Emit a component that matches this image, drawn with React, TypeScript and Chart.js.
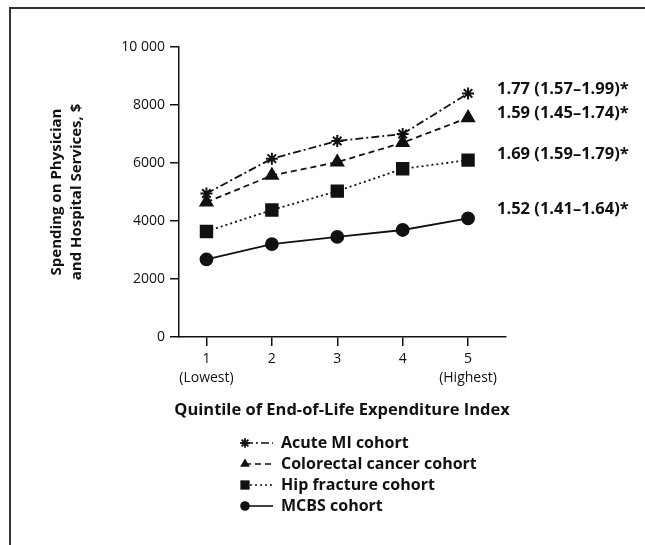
import React, { useEffect, useRef } from "react";
import { Chart, registerables } from "chart.js";

Chart.register(...registerables);

const quintiles = [1, 2, 3, 4, 5];
const tickLabels: string[][] = [["1", "(Lowest)"], ["2"], ["3"], ["4"], ["5", "(Highest)"]];
const acuteMI = [4950, 6150, 6760, 7000, 8400];
const colorectal = [4650, 5570, 6030, 6700, 7560];
const hipFracture = [3640, 4380, 5030, 5800, 6100];
const mcbs = [2680, 3200, 3450, 3690, 4090];
const seriesNames = ["Acute MI cohort", "Colorectal cancer cohort", "Hip fracture cohort", "MCBS cohort"];
const ratioLabels = ["1.77 (1.57\u20131.99)*", "1.59 (1.45\u20131.74)*", "1.69 (1.59\u20131.79)*", "1.52 (1.41\u20131.64)*"];
const ratioValues = [8550, 7700, 6300, 4400];

const FONT = "'Open Sans', Lato, sans-serif";

export default function App() {
  const ref = useRef<HTMLCanvasElement | null>(null);
  useEffect(() => {
    const canvas = ref.current;
    if (!canvas) return;
    const toPts = (arr: number[]) => arr.map((y, i) => ({ x: quintiles[i], y }));
    function drawPoint(ctx: CanvasRenderingContext2D, style: string, r: number, x: number, y: number) {
      ctx.beginPath();
      if (style === "circle") {
        ctx.arc(x, y, r, 0, Math.PI * 2);
        ctx.fill();
      } else if (style === "rect") {
        const s = r * Math.SQRT1_2;
        ctx.fillRect(x - s, y - s, 2 * s, 2 * s);
      } else if (style === "triangle") {
        ctx.moveTo(x, y - r);
        ctx.lineTo(x + r * 0.866, y + r * 0.5);
        ctx.lineTo(x - r * 0.866, y + r * 0.5);
        ctx.closePath();
        ctx.fill();
      } else {
        for (let k = 0; k < 4; k++) {
          const a = (k * Math.PI) / 4;
          ctx.moveTo(x - r * Math.cos(a), y - r * Math.sin(a));
          ctx.lineTo(x + r * Math.cos(a), y + r * Math.sin(a));
        }
        ctx.stroke();
      }
    }
    const overlay = {
      id: "overlay",
      afterDraw(chart: any) {
        const ctx = chart.ctx;
        const ca = chart.chartArea;
        const ys = chart.scales.y;
        ctx.save();
        // frame
        ctx.strokeStyle = "#333";
        ctx.lineWidth = 2;
        ctx.beginPath();
        ctx.moveTo(10, 545);
        ctx.lineTo(10, 8);
        ctx.lineTo(645, 8);
        ctx.stroke();
        // y title
        ctx.fillStyle = "#111";
        ctx.font = `bold 15px ${FONT}`;
        ctx.textAlign = "center";
        ctx.textBaseline = "middle";
        ctx.save();
        ctx.translate(67, (ca.top + ca.bottom) / 2);
        ctx.rotate(-Math.PI / 2);
        ctx.fillText("Spending on Physician", 0, -10);
        ctx.fillText("and Hospital Services, $", 0, 10);
        ctx.restore();
        // x title
        ctx.font = `bold 16.5px ${FONT}`;
        ctx.fillText("Quintile of End-of-Life Expenditure Index", 342, 410);
        // ratio annotations
        ctx.textAlign = "left";
        ctx.font = `bold 16.5px ${FONT}`;
        ratioLabels.forEach((t, i) => {
          const y = ys.getPixelForValue(ratioValues[i]);
          ctx.fillText(t, 497, y);
        });
        // legend
        const rowY = [443, 464, 485, 506];
        chart.data.datasets.forEach((ds: any, i: number) => {
          const y = rowY[i];
          ctx.strokeStyle = "#111";
          ctx.lineWidth = 1.6;
          ctx.setLineDash(ds.borderDash || []);
          ctx.beginPath();
          ctx.moveTo(245, y);
          ctx.lineTo(273, y);
          ctx.stroke();
          ctx.setLineDash([]);
          ctx.fillStyle = "#111";
          ctx.lineWidth = 1.8;
          drawPoint(ctx, ds.pointStyle, ds.pointRadius * 0.8, 245, y);
          ctx.fillStyle = "#111";
          ctx.font = `bold 16px ${FONT}`;
          ctx.textBaseline = "middle";
          ctx.fillText(seriesNames[i], 281, y);
        });
        ctx.restore();
      },
    };
    const common = { borderColor: "#111", backgroundColor: "#111", borderWidth: 1.8, pointBorderColor: "#111", pointBackgroundColor: "#111" };
    const chart = new Chart(canvas, {
      type: "line",
      data: {
        datasets: [
          { label: seriesNames[0], data: toPts(acuteMI), borderDash: [8, 3, 2, 3], pointStyle: "star", pointRadius: 6, pointBorderWidth: 2, ...common },
          { label: seriesNames[1], data: toPts(colorectal), borderDash: [6, 4], pointStyle: "triangle", pointRadius: 7, ...common },
          { label: seriesNames[2], data: toPts(hipFracture), borderDash: [2, 3], pointStyle: "rect", pointRadius: 8.2, ...common },
          { label: seriesNames[3], data: toPts(mcbs), borderDash: [], pointStyle: "circle", pointRadius: 6, ...common },
        ] as any,
      },
      options: {
        animation: false,
        responsive: false,
        maintainAspectRatio: false,
        layout: { padding: { left: 0, right: 139, top: 47, bottom: 0 } },
        plugins: { legend: { display: false }, tooltip: { enabled: false } },
        scales: {
          x: {
            type: "linear",
            min: 0.58,
            max: 5.58,
            afterBuildTicks: (s: any) => { s.ticks = quintiles.map((v) => ({ value: v })); },
            afterFit: (s: any) => { s.height = 208; },
            ticks: {
              color: "#111",
              font: { family: FONT, size: 14, lineHeight: 1.35 },
              padding: 4,
              maxRotation: 0,
              autoSkip: false,
              callback: (v: any) => tickLabels[quintiles.indexOf(Number(v))] ?? "",
            },
            grid: { drawOnChartArea: false, color: "#111", tickLength: 9, lineWidth: 1.5 },
            border: { color: "#111", width: 1.5 },
          },
          y: {
            min: 0,
            max: 10000,
            afterFit: (s: any) => { s.width = 179; },
            ticks: {
              stepSize: 2000,
              color: "#111",
              font: { family: FONT, size: 14 },
              padding: 5,
              callback: (v: any) => (Number(v) === 10000 ? "10 000" : String(v)),
            },
            grid: { drawOnChartArea: false, color: "#111", tickLength: 9, lineWidth: 1.5 },
            border: { color: "#111", width: 1.5 },
          },
        },
      },
      plugins: [overlay],
    });
    return () => chart.destroy();
  }, []);
  return (
    <div style={{ position: "fixed", left: 0, top: 0, width: 645, height: 545, background: "#fff" }}>
      <canvas ref={ref} width={645} height={545} style={{ width: 645, height: 545, display: "block" }} />
    </div>
  );
}
